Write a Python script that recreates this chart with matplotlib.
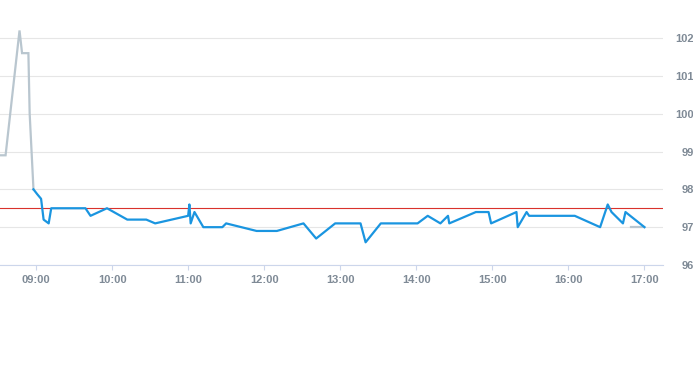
import matplotlib
matplotlib.use("Agg")
import matplotlib.pyplot as plt
import matplotlib.dates as mdates
import pandas as pd

# ---- data ----
day = "2024-01-02 "
pre_times = ["08:30", "08:36", "08:47", "08:49", "08:54", "08:55", "08:58"]
pre_values = [98.9, 98.9, 102.2, 101.6, 101.6, 100.0, 98.0]

post_times = ["16:49", "17:00"]
post_values = [97.0, 97.0]

main_times = ["08:58", "09:01", "09:04", "09:06", "09:10", "09:12", "09:39", "09:43",
              "09:56", "10:12", "10:27", "10:34", "11:00", "11:01", "11:02", "11:05",
              "11:12", "11:27", "11:30", "11:54", "12:10", "12:31", "12:41", "12:56",
              "13:16", "13:20", "13:32", "14:01", "14:09", "14:19", "14:25", "14:26",
              "14:47", "14:57", "14:59", "15:19", "15:20", "15:27", "15:29", "16:05",
              "16:25", "16:31", "16:34", "16:43", "16:45", "17:00"]
main_values = [98.0, 97.87, 97.75, 97.2, 97.1, 97.5, 97.5, 97.3,
               97.5, 97.2, 97.2, 97.1, 97.3, 97.6, 97.1, 97.4,
               97.0, 97.0, 97.1, 96.9, 96.9, 97.1, 96.7, 97.1,
               97.1, 96.6, 97.1, 97.1, 97.3, 97.1, 97.3, 97.1,
               97.4, 97.4, 97.1, 97.4, 97.0, 97.4, 97.3, 97.3,
               97.0, 97.6, 97.4, 97.1, 97.4, 97.0]

reference_level = 97.5
y_ticks = [96, 97, 98, 99, 100, 101, 102]
x_tick_labels = ["09:00", "10:00", "11:00", "12:00", "13:00", "14:00", "15:00", "16:00", "17:00"]

def tt(lst):
    return pd.to_datetime([day + t for t in lst])

W, H = 693, 365
fig = plt.figure(figsize=(W / 100, H / 100), dpi=100)
left_px, right_px, bottom_px = 0, 663, 265
ymin, ymax = 96, 102.9
unit = 37.83
top_px = bottom_px - (ymax - ymin) * unit
ax = fig.add_axes([left_px / W, 1 - bottom_px / H, (right_px - left_px) / W, (bottom_px - top_px) / H])

grid_c = "#e6e6e6"
axis_c = "#ccd6eb"
label_c = "#7f8a96"

ax.plot(tt(pre_times), pre_values, color="#b9c6cf", lw=1.6, solid_joinstyle="miter", zorder=3)
ax.plot(tt(post_times), post_values, color="#b9c6cf", lw=1.6, zorder=3)
ax.plot(tt(main_times), main_values, color="#1a95e0", lw=1.6, zorder=4)
ax.axhline(reference_level, color="#d9322c", lw=0.8, zorder=2)

xmin = pd.Timestamp(day + "08:31:36")
xmax = pd.Timestamp(day + "17:14:36")
ax.set_xlim(xmin, xmax)
ax.set_ylim(ymin, ymax)

ax.set_yticks(y_ticks)
ax.set_yticklabels([str(v) for v in y_ticks])
ax.yaxis.tick_right()
ax.grid(axis="y", color=grid_c, lw=0.8)
ax.set_axisbelow(True)

xt = tt(x_tick_labels)
ax.set_xticks(xt)
ax.set_xticklabels(x_tick_labels)

for s in ["top", "left", "right"]:
    ax.spines[s].set_visible(False)
ax.spines["bottom"].set_color(axis_c)
ax.spines["bottom"].set_linewidth(0.8)

ax.tick_params(axis="x", length=3.6, width=0.8, color=axis_c, pad=3.5,
               labelsize=8, labelcolor=label_c)
ax.tick_params(axis="y", length=0, pad=(694 - right_px) * 0.72,
               labelsize=8, labelcolor=label_c)
for lab in ax.get_yticklabels():
    lab.set_horizontalalignment("right")
    lab.set_fontfamily("Liberation Sans")
    lab.set_fontweight("bold")
for lab in ax.get_xticklabels():
    lab.set_fontfamily("Liberation Sans")
    lab.set_fontweight("bold")

fig.savefig("out.png", dpi=100)
